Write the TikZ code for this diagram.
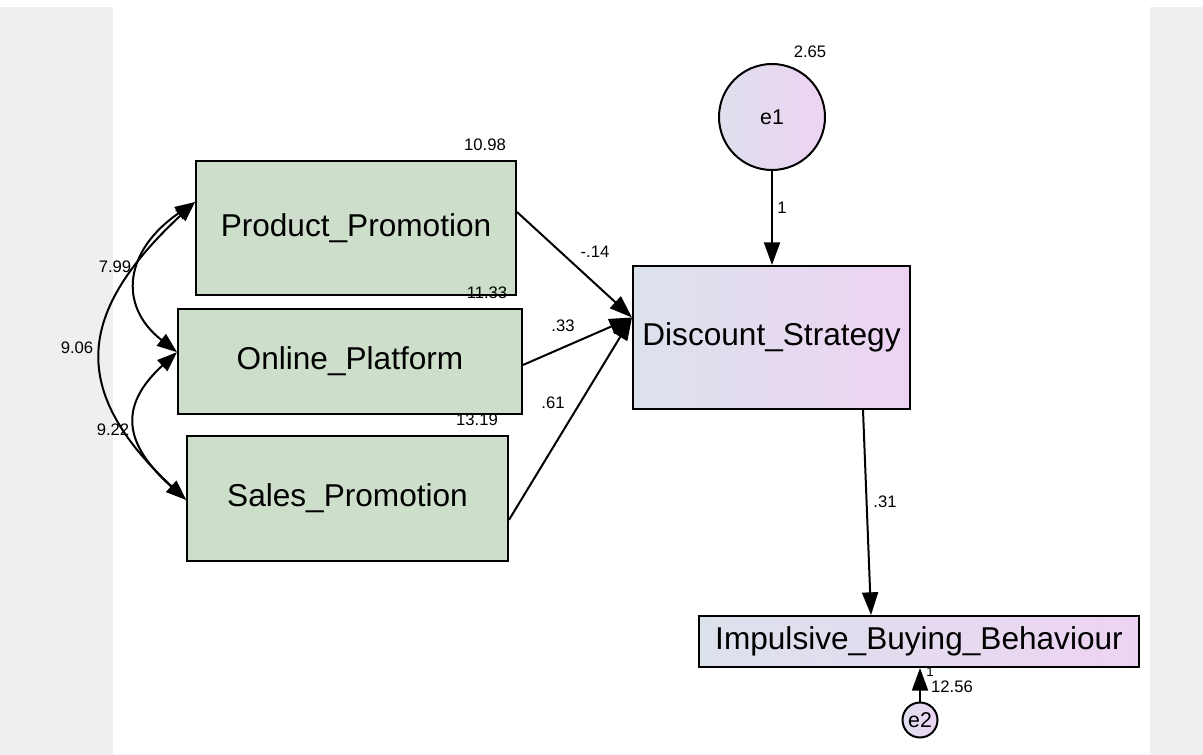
\documentclass[tikz,border=0pt]{standalone}
\usepackage{fontspec}
\setmainfont{Liberation Sans}
\usetikzlibrary{arrows.meta,calc}
\definecolor{boxgreen}{HTML}{CDDFCA}
\definecolor{gradl}{HTML}{DCE2EC}
\definecolor{gradr}{HTML}{EDD3F3}
\definecolor{margingray}{HTML}{EFEFEF}
\begin{document}
\begin{tikzpicture}[x=0.75pt,y=-0.75pt,
  obs/.style={draw=black,line width=1.5pt,fill=boxgreen,inner sep=0pt,font=\fontsize{23.7}{28}\selectfont},
  endo/.style={draw=black,line width=1.5pt,left color=gradl,right color=gradr,inner sep=0pt,font=\fontsize{23.7}{28}\selectfont},
  errc/.style={circle,draw=black,line width=1.5pt,left color=gradl!80!gradr,right color=gradr,inner sep=0pt,font=\fontsize{16}{19}\selectfont},
  num/.style={inner sep=0pt,font=\fontsize{12.5}{15}\selectfont},
  tinynum/.style={inner sep=0pt,font=\fontsize{10}{12}\selectfont},
  regarrow/.style={line width=1.5pt,-{Triangle[length=17pt,width=12pt]}},
  cov/.style={line width=1.5pt,{Triangle[length=15pt,width=11pt]}-{Triangle[length=15pt,width=11pt]}}
]
\useasboundingbox (0,0) rectangle (1203,755);
\fill[white] (0,0) rectangle (1203,755);
\fill[margingray] (0,7) rectangle (113,755);
\fill[margingray] (1150,7) rectangle (1203,755);

% observed exogenous
\node[obs,minimum width=240pt,minimum height=100.5pt] (PP) at (356,228) {Product\_Promotion};
\node[obs,minimum width=258pt,minimum height=78.75pt] (OP) at (350,361.5) {Online\_Platform};
\node[obs,minimum width=240.75pt,minimum height=93.75pt] (SP) at (347.5,498.5) {Sales\_Promotion};

% endogenous
\node[endo,minimum width=207.75pt,minimum height=107.25pt] (DS) at (771.5,337.5) {Discount\_Strategy};
\node[endo,minimum width=330pt,minimum height=38.25pt] (IBB) at (919,641.5) {Impulsive\_Buying\_Behaviour};

% errors
\node[errc,minimum size=79.5pt] (e1) at (772,117) {e1};
\node[errc,minimum size=26.25pt] (e2) at (920,720) {e2};

% regression paths
\coordinate (dsin) at ([yshift=15pt]DS.west);
\draw[regarrow] ([yshift=12pt]PP.east) -- (dsin);
\draw[regarrow] ([yshift=-2.6pt]OP.east) -- (dsin);
\draw[regarrow] ([yshift=-16pt]SP.east) -- (dsin);
\draw[regarrow] (e1.south) -- (e1.south |- DS.north);
\draw[regarrow] ([xshift=-36pt]DS.south east) -- ([xshift=-36pt]IBB.north);
\draw[regarrow] (e2.north) -- (e2.north |- IBB.south);

% covariances
\draw[cov] ([yshift=19.5pt]PP.west) .. controls +(-70,48) and +(-60,-47) .. ([yshift=7pt]OP.west);
\draw[cov] ([yshift=19.5pt]PP.west) .. controls +(-118,110) and +(-118,-110) .. ([yshift=-1pt]SP.west);
\draw[cov] ([yshift=7pt]OP.west) .. controls +(-60,55) and +(-61,-55) .. ([yshift=-1pt]SP.west);

% labels
\node[num] (vPP) at (485,145) {10.98};
\node[num] (vOP) at (487,293) {11.33};
\node[num] (vSP) at (477,420) {13.19};
\node[num] (c1) at (115,267) {7.99};
\node[num] (c2) at (77,348) {9.06};
\node[num] (c3) at (113,430) {9.22};
\node[num] (ve1) at (810,52) {2.65};
\node[num] (w1) at (782,208) {1};
\node[num] (b1) at (595,252) {-.14};
\node[num] (b2) at (563,326) {.33};
\node[num] (b3) at (553,403) {.61};
\node[num] (b4) at (885,502) {.31};
\node[tinynum] (w2) at (930,672) {1};
\node[num] (ve2) at (952,687) {12.56};
\end{tikzpicture}
\end{document}
